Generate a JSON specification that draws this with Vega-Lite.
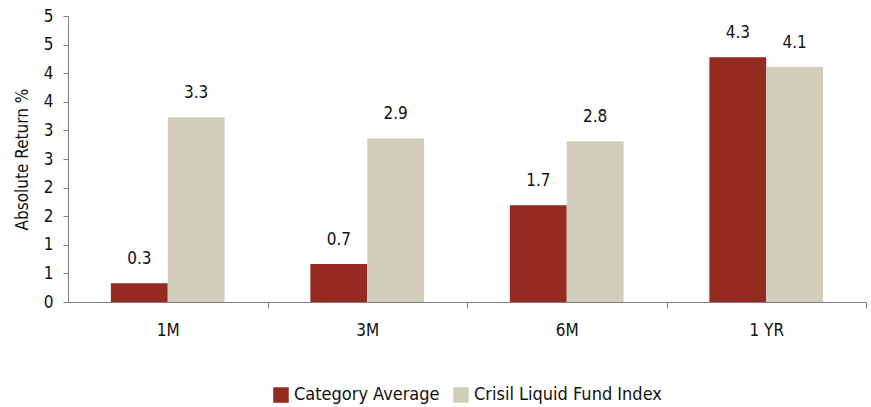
{
  "$schema": "https://vega.github.io/schema/vega-lite/v6.json",
  "width": 798,
  "height": 286,
  "autosize": {"type": "none"},
  "padding": {"left": 68, "top": 16, "right": 5, "bottom": 105},
  "background": "white",
  "config": {
    "font": "'DejaVu Sans Condensed', Roboto, sans-serif",
    "view": {"stroke": null},
    "legend": {"layout": {"bottom": {"anchor": "middle"}}},
    "axis": {"grid": false, "domainColor": "#7f7f7f", "tickColor": "#7f7f7f", "labelColor": "#111111", "titleColor": "#111111", "labelFontSize": 17, "titleFontSize": 17, "titleFontWeight": "normal"}
  },
  "data": {
    "values": [
      {"period": "1M", "series": "Category Average", "value": 0.327, "label": "0.3"},
      {"period": "1M", "series": "Crisil Liquid Fund Index", "value": 3.23, "label": "3.3"},
      {"period": "3M", "series": "Category Average", "value": 0.664, "label": "0.7"},
      {"period": "3M", "series": "Crisil Liquid Fund Index", "value": 2.86, "label": "2.9"},
      {"period": "6M", "series": "Category Average", "value": 1.69, "label": "1.7"},
      {"period": "6M", "series": "Crisil Liquid Fund Index", "value": 2.81, "label": "2.8"},
      {"period": "1 YR", "series": "Category Average", "value": 4.28, "label": "4.3"},
      {"period": "1 YR", "series": "Crisil Liquid Fund Index", "value": 4.11, "label": "4.1"}
    ]
  },
  "encoding": {
    "x": {
      "field": "period", "type": "nominal", "sort": ["1M", "3M", "6M", "1 YR"],
      "scale": {"paddingInner": 0.43, "paddingOuter": 0.215},
      "axis": {"title": null, "labelAngle": 0, "tickSize": 6, "tickOffset": 99.75, "labelOffset": -99.75, "labelPadding": 14}
    },
    "xOffset": {"field": "series", "type": "nominal", "sort": ["Category Average", "Crisil Liquid Fund Index"], "scale": {"paddingInner": 0, "paddingOuter": 0}},
    "y": {
      "field": "value", "type": "quantitative",
      "scale": {"domain": [0, 5], "nice": false},
      "axis": {"title": "Absolute Return %", "values": [0, 0.5, 1, 1.5, 2, 2.5, 3, 3.5, 4, 4.5, 5], "format": ".0f", "tickSize": 5, "labelPadding": 10, "titlePadding": 12}
    }
  },
  "layer": [
    {
      "mark": {"type": "bar"},
      "encoding": {
        "color": {
          "field": "series", "type": "nominal",
          "scale": {"domain": ["Category Average", "Crisil Liquid Fund Index"], "range": ["#952A21", "#D1CEBB"]},
          "legend": {"title": null, "orient": "bottom", "direction": "horizontal", "symbolType": "square", "symbolSize": 240, "labelFontSize": 18, "labelColor": "#111111", "labelLimit": 0, "labelOffset": 4, "columnPadding": 12, "offset": 48, "symbolStrokeWidth": 0}
        }
      }
    },
    {
      "mark": {"type": "text", "baseline": "middle", "dy": -24, "fontSize": 17, "color": "#111111"},
      "encoding": {"text": {"field": "label"}}
    }
  ]
}
